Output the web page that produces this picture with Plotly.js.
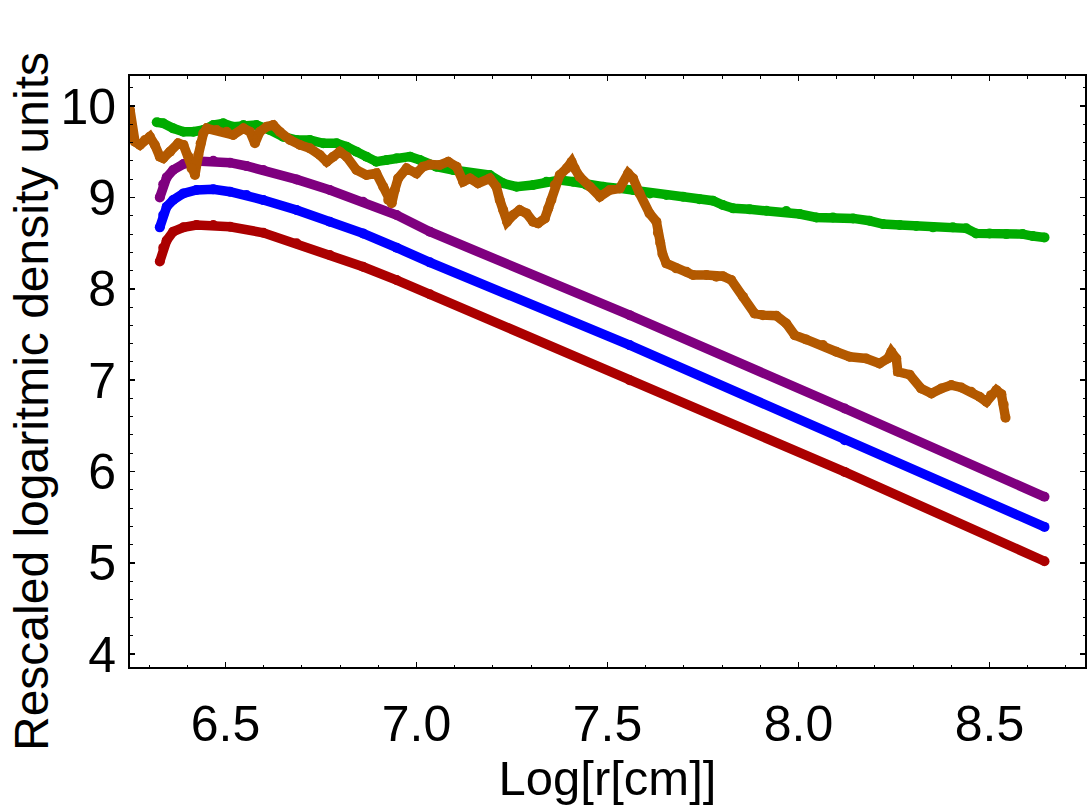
<!DOCTYPE html>
<html>
<head>
<meta charset="utf-8">
<script src="https://cdn.plot.ly/plotly-3.0.1.min.js"></script>
<style>
  html, body { margin: 0; padding: 0; background: #ffffff; }
  #chart { width: 1088px; height: 805px; }
</style>
</head>
<body>
<div id="chart"></div>
<script>
// ---- Data ----
const redX = [6.328, 6.337, 6.346, 6.363, 6.390, 6.424, 6.468, 6.512, 6.599, 6.686, 6.773, 6.860, 6.948, 7.035, 7.558, 8.121, 8.644];
const redY = [8.30, 8.45, 8.53, 8.625, 8.673, 8.698, 8.698, 8.680, 8.614, 8.498, 8.370, 8.242, 8.096, 7.940, 7.000, 5.996, 5.018];

const blueX = [6.328, 6.337, 6.346, 6.363, 6.390, 6.424, 6.468, 6.512, 6.555, 6.599, 6.686, 6.773, 6.860, 6.948, 7.035, 7.558, 8.121, 8.644];
const blueY = [8.673, 8.808, 8.899, 8.972, 9.045, 9.082, 9.089, 9.063, 9.027, 8.972, 8.863, 8.735, 8.607, 8.450, 8.290, 7.384, 6.343, 5.394];

const purpleX = [6.328, 6.337, 6.346, 6.363, 6.390, 6.424, 6.468, 6.512, 6.555, 6.599, 6.686, 6.773, 6.860, 6.948, 7.035, 7.558, 8.121, 8.644];
const purpleY = [9.001, 9.144, 9.220, 9.301, 9.366, 9.399, 9.403, 9.381, 9.345, 9.301, 9.198, 9.082, 8.954, 8.808, 8.625, 7.712, 6.690, 5.723];

const greenX = [6.320, 6.337, 6.363, 6.390, 6.416, 6.442, 6.468, 6.494, 6.520, 6.547, 6.581, 6.616, 6.651, 6.686, 6.721, 6.756, 6.791, 6.817, 6.843, 6.869, 6.895, 6.922, 6.948, 6.983, 7.009, 7.052, 7.096, 7.140, 7.192, 7.227, 7.262, 7.305, 7.340, 7.375, 7.410, 7.445, 7.489, 7.532, 7.567, 7.611, 7.654, 7.698, 7.741, 7.776, 7.802, 7.829, 7.872, 7.916, 7.968, 8.003, 8.047, 8.090, 8.143, 8.186, 8.221, 8.265, 8.308, 8.352, 8.404, 8.439, 8.465, 8.500, 8.544, 8.587, 8.613, 8.644];
const greenY = [9.823, 9.812, 9.757, 9.720, 9.720, 9.739, 9.794, 9.812, 9.775, 9.794, 9.794, 9.739, 9.666, 9.629, 9.629, 9.593, 9.593, 9.556, 9.502, 9.447, 9.392, 9.410, 9.429, 9.447, 9.410, 9.337, 9.301, 9.264, 9.246, 9.155, 9.118, 9.137, 9.173, 9.191, 9.173, 9.137, 9.118, 9.100, 9.082, 9.045, 9.027, 9.009, 8.980, 8.965, 8.917, 8.881, 8.870, 8.855, 8.851, 8.819, 8.782, 8.782, 8.771, 8.745, 8.709, 8.698, 8.687, 8.673, 8.673, 8.662, 8.607, 8.607, 8.599, 8.599, 8.578, 8.563];

const orangeX = [6.250, 6.254, 6.263, 6.276, 6.289, 6.302, 6.315, 6.328, 6.337, 6.355, 6.376, 6.390, 6.403, 6.411, 6.420, 6.429, 6.435, 6.442, 6.451, 6.477, 6.503, 6.520, 6.547, 6.564, 6.577, 6.590, 6.608, 6.625, 6.642, 6.669, 6.695, 6.721, 6.747, 6.765, 6.782, 6.799, 6.817, 6.843, 6.869, 6.895, 6.913, 6.926, 6.935, 6.943, 6.952, 6.974, 7.000, 7.017, 7.035, 7.061, 7.083, 7.105, 7.122, 7.140, 7.161, 7.192, 7.209, 7.218, 7.227, 7.237, 7.253, 7.270, 7.288, 7.305, 7.318, 7.336, 7.345, 7.353, 7.362, 7.375, 7.393, 7.406, 7.414, 7.427, 7.454, 7.480, 7.506, 7.532, 7.554, 7.567, 7.584, 7.610, 7.628, 7.632, 7.638, 7.644, 7.654, 7.680, 7.707, 7.724, 7.759, 7.785, 7.802, 7.824, 7.855, 7.885, 7.907, 7.942, 7.968, 7.990, 8.020, 8.064, 8.099, 8.134, 8.177, 8.212, 8.234, 8.243, 8.256, 8.260, 8.291, 8.321, 8.348, 8.374, 8.400, 8.426, 8.452, 8.474, 8.492, 8.504, 8.518, 8.531, 8.537, 8.542];
const orangeY = [9.958, 9.775, 9.611, 9.575, 9.629, 9.666, 9.575, 9.447, 9.429, 9.502, 9.593, 9.575, 9.447, 9.319, 9.246, 9.465, 9.593, 9.702, 9.757, 9.739, 9.720, 9.684, 9.757, 9.720, 9.593, 9.720, 9.775, 9.794, 9.720, 9.629, 9.575, 9.538, 9.465, 9.392, 9.447, 9.502, 9.447, 9.301, 9.246, 9.264, 9.118, 8.972, 8.936, 9.082, 9.209, 9.319, 9.264, 9.337, 9.360, 9.356, 9.392, 9.337, 9.173, 9.209, 9.155, 9.209, 9.118, 8.972, 8.863, 8.735, 8.808, 8.863, 8.826, 8.735, 8.717, 8.771, 8.881, 8.972, 9.137, 9.246, 9.319, 9.392, 9.319, 9.228, 9.118, 9.009, 9.082, 9.100, 9.264, 9.209, 9.045, 8.826, 8.735, 8.614, 8.505, 8.381, 8.279, 8.224, 8.187, 8.151, 8.151, 8.132, 8.139, 8.096, 7.913, 7.731, 7.712, 7.705, 7.621, 7.493, 7.446, 7.384, 7.311, 7.256, 7.238, 7.183, 7.238, 7.311, 7.238, 7.092, 7.060, 6.909, 6.854, 6.909, 6.946, 6.920, 6.873, 6.818, 6.763, 6.836, 6.891, 6.847, 6.734, 6.588];

// ---- Axis / text settings ----
const xTickStep = 0.5, xMinorStep = 0.1;
const yTickStep = 1, yMinorStep = 0.2;
const xRange = [6.25, 8.75];
const yRange = [3.86, 10.33];
const xTitle = 'Log[r[cm]]';
const yTitle = 'Rescaled logaritmic density units';

const colors = {
  red: '#AB0000',
  blue: '#0000FF',
  purple: '#7F007F',
  green: '#00AB00',
  orange: '#B35900'
};

function series(x, y, color) {
  return {
    type: 'scatter',
    mode: 'lines+markers',
    x: x, y: y,
    line: { color: color, width: 9.5 },
    marker: { color: color, size: 10, line: { width: 0 } },
    hoverinfo: 'x+y'
  };
}

const traces = [
  series(redX, redY, colors.red),
  series(blueX, blueY, colors.blue),
  series(purpleX, purpleY, colors.purple),
  series(greenX, greenY, colors.green),
  series(orangeX, orangeY, colors.orange)
];

const FONT = '"Liberation Sans", Arial, Helvetica, sans-serif';

const commonAxis = {
  showgrid: false,
  zeroline: false,
  showline: true,
  linecolor: '#000000',
  linewidth: 2,
  mirror: 'ticks',
  ticks: 'inside',
  ticklen: 5,
  tickwidth: 1.5,
  tickcolor: '#000000',
  tickfont: { family: FONT, size: 50, color: '#000000' }
};

const layout = {
  width: 1088,
  height: 805,
  margin: { l: 130, r: 3, t: 76, b: 138 },
  paper_bgcolor: '#ffffff',
  plot_bgcolor: '#ffffff',
  showlegend: false,
  xaxis: Object.assign({}, commonAxis, {
    range: xRange,
    tick0: 0,
    dtick: xTickStep,
    tickformat: '.1f',
    ticklabelstandoff: 12,
    minor: { dtick: xMinorStep, tick0: 0, ticks: 'inside', ticklen: 2.5, tickwidth: 1, tickcolor: '#000000' },
    title: { text: xTitle, font: { family: FONT, size: 49, color: '#000000' }, standoff: 8 }
  }),
  yaxis: Object.assign({}, commonAxis, {
    range: yRange,
    tick0: 0,
    dtick: yTickStep,
    ticklabelstandoff: 2,
    minor: { dtick: yMinorStep, tick0: 0, ticks: 'inside', ticklen: 2.5, tickwidth: 1, tickcolor: '#000000' }
  }),
  annotations: [{
    text: yTitle,
    xref: 'paper', yref: 'paper',
    x: (31 - 130) / 955,
    y: (667 - 402) / 591,
    xanchor: 'center', yanchor: 'middle',
    textangle: -90,
    showarrow: false,
    font: { family: FONT, size: 48, color: '#000000' }
  }]
};

Plotly.newPlot('chart', traces, layout, { displayModeBar: false, staticPlot: true });
</script>
</body>
</html>
